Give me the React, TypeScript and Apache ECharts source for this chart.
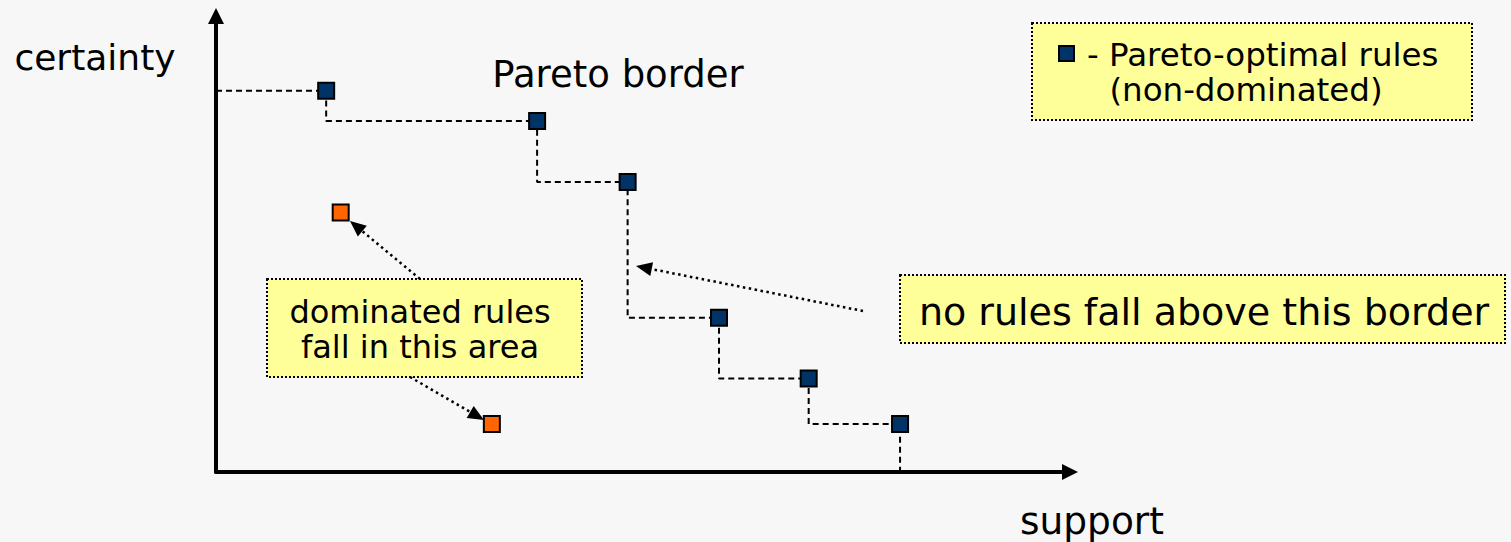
import React, { useEffect, useRef } from "react";
import * as echarts from "echarts";

// ---- data ----
const paretoSupport = [12.9, 37.6, 48.2, 58.9, 69.4, 80.1];
const paretoCertainty = [83.6, 77.0, 63.6, 33.8, 20.5, 10.5];
const dominatedSupport = [14.6, 32.3];
const dominatedCertainty = [56.9, 10.5];

const xAxisName = "support";
const yAxisName = "certainty";
const borderLabel = "Pareto border";
const legendLines = ["- Pareto-optimal rules", "(non-dominated)"];
const dominatedNote = "dominated rules\nfall in this area";
const borderNote = "no rules fall above this border";

const FONT = "DejaVu Sans";
const NAVY = "#003366";
const ORANGE = "#ff6600";
const YELLOW = "#ffff99";
const BG = "#f7f7f7";

function arrow(x1: number, y1: number, x2: number, y2: number, headLen = 16, headW = 14) {
  const dx = x2 - x1;
  const dy = y2 - y1;
  const L = Math.hypot(dx, dy);
  const ux = dx / L;
  const uy = dy / L;
  const bx = x2 - ux * headLen;
  const by = y2 - uy * headLen;
  const px = -uy;
  const py = ux;
  return [
    {
      type: "line",
      shape: { x1, y1, x2: bx, y2: by },
      style: { stroke: "#000", lineWidth: 2.5, lineDash: [2.5, 3.5] },
      z: 10,
    },
    {
      type: "polygon",
      shape: {
        points: [
          [x2, y2],
          [bx + (px * headW) / 2, by + (py * headW) / 2],
          [bx - (px * headW) / 2, by - (py * headW) / 2],
        ],
      },
      style: { fill: "#000" },
      z: 10,
    },
  ];
}

function box(x: number, y: number, w: number, h: number) {
  return {
    type: "rect",
    shape: { x, y, width: w, height: h },
    style: { fill: YELLOW, stroke: "#000", lineWidth: 2, lineDash: [2, 2] },
    z: 5,
  };
}

function txt(text: string, x: number, y: number, size: number, align = "center", lineHeight?: number) {
  return {
    type: "text",
    x,
    y,
    z: 20,
    style: {
      text,
      fill: "#000",
      fontSize: size,
      fontFamily: FONT,
      align,
      verticalAlign: "middle",
      lineHeight: lineHeight ?? size * 1.2,
    },
  };
}

export default function App() {
  const ref = useRef<HTMLDivElement>(null);

  useEffect(() => {
    if (!ref.current) return;
    const chart = echarts.init(ref.current, null, { renderer: "svg" });

    const stepData: number[][] = [[0, paretoCertainty[0]]];
    paretoSupport.forEach((s, i) => stepData.push([s, paretoCertainty[i]]));
    stepData.push([paretoSupport[paretoSupport.length - 1], 0]);

    const axisCommon = {
      type: "value",
      min: 0,
      max: 100,
      axisLabel: { show: false },
      axisTick: { show: false },
      splitLine: { show: false },
      axisLine: {
        show: true,
        onZero: false,
        symbol: ["none", "triangle"],
        symbolSize: [16, 16],
        lineStyle: { color: "#000", width: 4 },
      },
    };

    chart.setOption({
      animation: false,
      backgroundColor: BG,
      grid: { left: 216, right: 441, top: 16, bottom: 70, outerBoundsMode: "none" },
      xAxis: { ...axisCommon },
      yAxis: { ...axisCommon },
      series: [
        {
          type: "line",
          step: "start",
          data: stepData,
          symbol: "none",
          lineStyle: { color: "#000", width: 2, type: [6, 4] },
          z: 2,
        },
        {
          type: "scatter",
          data: paretoSupport.map((s, i) => [s, paretoCertainty[i]]),
          symbol: "rect",
          symbolSize: 16,
          itemStyle: { color: NAVY, borderColor: "#000", borderWidth: 2, opacity: 1 },
          z: 3,
        },
        {
          type: "scatter",
          data: dominatedSupport.map((s, i) => [s, dominatedCertainty[i]]),
          symbol: "rect",
          symbolSize: 16,
          itemStyle: { color: ORANGE, borderColor: "#000", borderWidth: 2, opacity: 1 },
          z: 3,
        },
      ],
      graphic: [
        txt(yAxisName, 95, 57, 36),
        txt(xAxisName, 1092, 521, 37.5),
        txt(borderLabel, 618, 74, 37),
        box(1032, 23, 440, 97),
        {
          type: "rect",
          shape: { x: 1059, y: 46, width: 15, height: 15 },
          style: { fill: NAVY, stroke: "#000", lineWidth: 2 },
          z: 20,
        },
        txt(legendLines[0], 1087, 55, 32.5, "left"),
        txt(legendLines[1], 1246, 90, 32.5),
        box(267, 279, 315, 98),
        txt(dominatedNote, 420, 329, 32, "center", 35),
        box(900, 275, 605, 68),
        txt(borderNote, 1204, 312, 38),
        ...arrow(420, 279, 350, 221),
        ...arrow(410, 377, 484, 420),
        ...arrow(863, 311, 636, 266),
      ],
    });

    return () => chart.dispose();
  }, []);

  return (
    <div
      ref={ref}
      style={{ position: "absolute", left: 0, top: 0, width: 1511, height: 542 }}
    />
  );
}
